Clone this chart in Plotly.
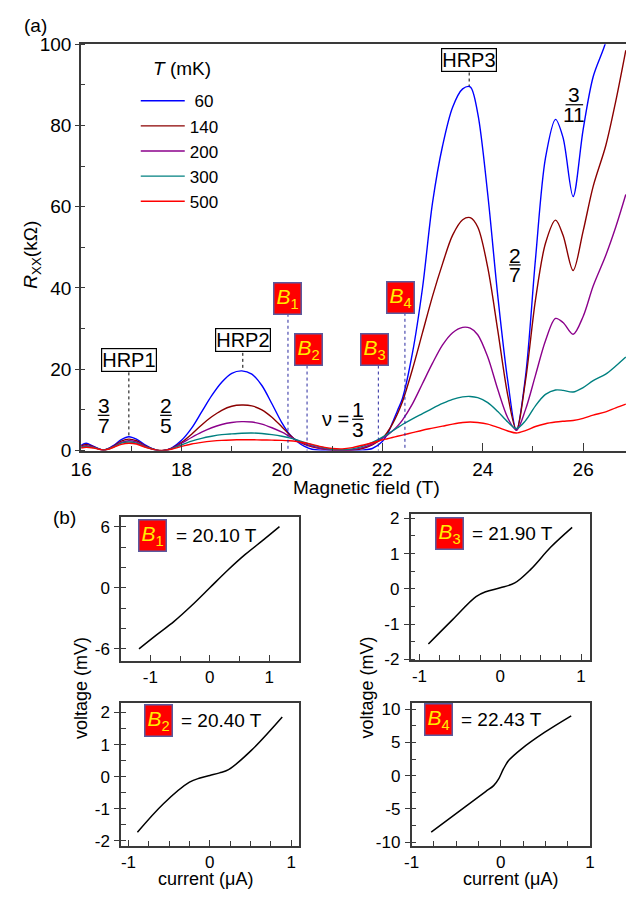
import plotly.graph_objects as go

# ---------------- data: panel (a) ----------------
FIELD = [16.0, 16.1, 16.25, 16.45, 16.65, 16.8, 16.95, 17.1, 17.3, 17.5, 17.65, 17.8,
         18.0, 18.2, 18.4, 18.6, 18.8, 19.0, 19.2, 19.4, 19.6, 19.8, 20.0, 20.15, 20.3,
         20.45, 20.6, 20.8, 21.0, 21.2, 21.4, 21.6, 21.8, 22.0, 22.1, 22.2, 22.3, 22.4,
         22.6, 22.8, 23.0, 23.2, 23.4, 23.6, 23.75, 23.9, 24.1, 24.3, 24.5, 24.67, 24.85,
         25.05, 25.25, 25.45, 25.6, 25.8, 26.0, 26.2, 26.45, 26.65, 26.85]

R_60 = [1.3, 1.8, 1.0, 0.1, 1.3, 2.7, 3.4, 2.8, 1.2, 0.1, 0.0, 0.6,
        2.5, 5.5, 9.5, 13.5, 16.8, 19.0, 19.6, 18.8, 16.0, 11.5, 6.8, 4.0, 2.2,
        1.0, 0.3, 0.05, 0.0, 0.0, 0.0, 0.1, 0.5, 2.2, 4.0, 6.8, 9.8, 12.8,
        24.0, 40.0, 61.0, 75.0, 84.5, 89.0, 89.5, 83.0, 63.0, 38.0, 17.0, 5.0, 18.0,
        47.0, 72.0, 81.5, 77.0, 62.5, 79.0, 92.0, 100.5, 112.0, 125.0]
R_140 = [1.1, 1.5, 0.9, 0.1, 1.1, 2.3, 2.8, 2.4, 1.0, 0.1, 0.0, 0.5,
         2.0, 4.0, 6.3, 8.3, 9.9, 10.9, 11.2, 11.0, 10.0, 8.2, 5.8, 3.9, 2.4,
         1.5, 0.9, 0.4, 0.1, 0.0, 0.1, 0.5, 1.4, 3.0, 4.5, 6.5, 9.0, 12.0,
         20.0, 29.0, 38.0, 46.0, 53.0, 56.8, 57.3, 55.0, 45.0, 29.5, 13.5, 5.0, 17.0,
         37.0, 51.0, 56.7, 53.0, 44.3, 54.0, 65.0, 75.0, 86.0, 98.5]
R_200 = [0.9, 1.2, 0.8, 0.1, 1.0, 2.0, 2.4, 2.1, 0.9, 0.1, 0.0, 0.5,
         1.8, 3.2, 4.5, 5.6, 6.4, 6.9, 7.1, 7.0, 6.5, 5.6, 4.5, 3.5, 2.5,
         1.7, 1.1, 0.5, 0.2, 0.1, 0.2, 0.7, 1.6, 3.0, 3.8, 4.8, 6.0, 7.5,
         11.5, 16.5, 21.5, 26.0, 29.0, 30.3, 30.1, 28.5, 23.0, 15.0, 8.0, 5.0, 10.0,
         18.5, 27.0, 32.5, 31.5, 28.6, 33.0, 40.5, 48.0, 55.0, 63.0]
R_300 = [0.7, 1.0, 0.7, 0.1, 0.9, 1.8, 2.1, 1.8, 0.8, 0.1, 0.0, 0.4,
         1.4, 2.3, 3.0, 3.5, 3.9, 4.1, 4.25, 4.3, 4.2, 3.9, 3.5, 3.1, 2.6,
         2.0, 1.4, 0.8, 0.3, 0.2, 0.4, 1.0, 2.0, 3.3, 4.0, 4.8, 5.6, 6.4,
         7.8, 9.1, 10.4, 11.6, 12.6, 13.2, 13.3, 13.0, 11.8, 9.6, 7.0, 5.4, 7.3,
         11.0, 13.8, 14.9, 14.8, 14.4, 15.5, 17.2, 18.8, 20.8, 23.0]
R_500 = [0.6, 0.8, 0.6, 0.1, 0.8, 1.5, 1.8, 1.6, 0.7, 0.1, 0.0, 0.3,
         1.0, 1.6, 2.0, 2.3, 2.5, 2.6, 2.65, 2.65, 2.6, 2.55, 2.5, 2.4, 2.2,
         1.9, 1.5, 0.9, 0.5, 0.4, 0.7, 1.3, 1.9, 2.6, 2.9, 3.2, 3.5, 3.8,
         4.4, 5.0, 5.5, 6.0, 6.5, 6.9, 7.0, 6.9, 6.5, 5.7, 4.8, 4.3, 4.9,
         5.9, 6.6, 7.0, 7.2, 7.4, 7.9, 8.7, 9.5, 10.5, 11.4]

TEMPS_MK = ["60", "140", "200", "300", "500"]
SERIES = [R_60, R_140, R_200, R_300, R_500]
COLORS = ["#0000ff", "#8b0000", "#8b008b", "#008080", "#ff0000"]

HRP_LABELS = ["HRP1", "HRP2", "HRP3"]
HRP_FIELDS = [16.95, 19.22, 23.73]
B_MARK_FIELDS = [20.12, 20.5, 21.92, 22.45]

# ---------------- data: panel (b) ----------------
I_B1 = [-1.19, -0.9, -0.6, -0.3, 0.0, 0.3, 0.6, 0.9, 1.17]
V_B1 = [-6.0, -4.65, -3.3, -1.72, 0.0, 1.72, 3.3, 4.7, 6.0]
I_B3 = [-0.89, -0.59, -0.30, -0.18, 0.0, 0.18, 0.38, 0.62, 0.89]
V_B3 = [-1.56, -0.87, -0.22, -0.08, 0.03, 0.17, 0.56, 1.17, 1.74]
I_B2 = [-0.89, -0.57, -0.25, -0.12, 0.0, 0.12, 0.23, 0.51, 0.89]
V_B2 = [-1.73, -0.84, -0.17, -0.04, 0.04, 0.12, 0.22, 0.82, 1.86]
I_B4 = [-0.78, -0.46, -0.17, -0.08, -0.02, 0.03, 0.09, 0.23, 0.49, 0.79]
V_B4 = [-8.5, -5.3, -2.4, -1.5, -0.4, 1.0, 2.3, 4.0, 6.5, 9.0]
B_VALUES = ["20.10", "21.90", "20.40", "22.43"]
B_INDEX = ["1", "3", "2", "4"]

TICKS_A_X = [16, 18, 20, 22, 24, 26]
TICKS_A_Y = [0, 20, 40, 60, 80, 100]
TICKS_I = [-1, 0, 1]
TICKS_V_B1 = [-6, 0, 6]
TICKS_V_SMALL = [-2, -1, 0, 1, 2]
TICKS_V_B4 = [-10, -5, 0, 5, 10]

# ---------------- helpers ----------------
W, H = 631, 903
FONT = "Liberation Sans, Arial, Helvetica, sans-serif"
AX = "#3a3a3a"


def px(x):
    return x / W


def py(y):
    return 1 - y / H


fig = go.Figure()

for name, vals, col in zip(TEMPS_MK, SERIES, COLORS):
    fig.add_trace(go.Scatter(x=FIELD, y=vals, mode="lines",
                             name=("\u00a0" + name) if len(name) == 2 else name,
                             line=dict(color=col, width=1.4, shape="spline", smoothing=0.9),
                             xaxis="x", yaxis="y", showlegend=True))

panels = [(I_B1, V_B1, "x2", "y2"), (I_B3, V_B3, "x3", "y3"),
          (I_B2, V_B2, "x4", "y4"), (I_B4, V_B4, "x5", "y5")]
for I, V, xa, ya in panels:
    fig.add_trace(go.Scatter(x=I, y=V, mode="lines",
                             line=dict(color="black", width=1.5, shape="spline", smoothing=1.0),
                             xaxis=xa, yaxis=ya, showlegend=False))

common = dict(showgrid=False, zeroline=False, showline=True, linecolor=AX, tickcolor=AX,
              tickfont=dict(family=FONT, size=17, color="black"), tickmode="array")


def tl(vals):
    return [str(v) for v in vals]


layout = dict(
    width=W, height=H, margin=dict(l=0, r=0, t=0, b=0),
    paper_bgcolor="white", plot_bgcolor="white",
    font=dict(family=FONT, color="black"),
    xaxis=dict(common, domain=[px(72), 1.0], range=[16, 26.854], anchor="y",
               linewidth=2, mirror=True, tickvals=TICKS_A_X, ticktext=tl(TICKS_A_X),
               ticks="inside", ticklen=8,
               minor=dict(tickmode="linear", tick0=16, dtick=1, ticks="inside", ticklen=5, tickcolor=AX),
               tickfont=dict(family=FONT, size=19, color="black"), ticklabelstandoff=1),
    yaxis=dict(common, domain=[py(451), py(35)], range=[0, 100], anchor="x",
               linewidth=2, tickvals=TICKS_A_Y, ticktext=tl(TICKS_A_Y), ticks="outside", ticklen=4,
               minor=dict(tickmode="linear", tick0=0, dtick=10, ticks="inside", ticklen=4, tickcolor=AX),
               tickfont=dict(family=FONT, size=19, color="black")),
    legend=dict(x=px(128), y=py(75), xanchor="left", yanchor="top",
                bgcolor="rgba(0,0,0,0)", font=dict(family=FONT, size=17),
                tracegroupgap=0, itemwidth=44),
)

bottom_specs = [
    ("x2", "y2", [113, 295], [519, 666], [-1.49, 1.49], [-7.15, 6.96], TICKS_I, 0.5, TICKS_V_B1, 2),
    ("x3", "y3", [410, 594], [516, 665], [-1.11, 1.11], [-2.0, 2.12], TICKS_I, 0.25, TICKS_V_SMALL, 0.5),
    ("x4", "y4", [113, 295], [709, 856], [-1.09, 1.09], [-2.16, 2.31], TICKS_I, 0.25, TICKS_V_SMALL, 0.5),
    ("x5", "y5", [411, 594], [709, 856], [-1.0, 1.0], [-10.6, 11.0], TICKS_I, 0.25, TICKS_V_B4, 2.5),
]
for xa, ya, xd, yd, xr, yr, xt, xmdt, yt, ymdt in bottom_specs:
    xk = "xaxis" + xa[1:]
    yk = "yaxis" + ya[1:]
    layout[xk] = dict(common, domain=[px(xd[0]), px(xd[1])], range=xr, anchor=ya, mirror=True,
                      linewidth=1.5, tickvals=xt, ticktext=tl(xt), ticks="inside", ticklen=6,
                      minor=dict(tickmode="linear", tick0=0, dtick=xmdt, ticks="inside", ticklen=5, tickcolor=AX),
                      ticklabelstandoff=0)
    layout[yk] = dict(common, domain=[py(yd[1]), py(yd[0])], range=yr, anchor=xa, mirror=True,
                      linewidth=1.5, tickvals=yt, ticktext=tl(yt), ticks="outside", ticklen=5,
                      minor=dict(tickmode="linear", tick0=0, dtick=ymdt, ticks="inside", ticklen=5, tickcolor=AX),
                      ticklabelstandoff=1)

fig.update_layout(**layout)

ann = []
shapes = []


def text(x, y, s, size=19, **kw):
    d = dict(x=px(x), y=py(y), xref="paper", yref="paper", text=s, showarrow=False,
             font=dict(family=FONT, size=size, color="black"), xanchor="center", yanchor="middle")
    d.update(kw)
    ann.append(d)


def bbox(x, y, idx, size=21):
    ann.append(dict(x=px(x), y=py(y), xref="paper", yref="paper",
                    text="<i>B</i><sub>" + idx + "</sub>", showarrow=False,
                    font=dict(family=FONT, size=size, color="#ffee00"),
                    bgcolor="#ff0000", bordercolor="#5a5aa0", borderwidth=1.5, borderpad=0,
                    width=26, height=30, xanchor="center", yanchor="middle"))


def frac(x, ytop, n, d, size=21, bar=12):
    text(x, ytop, n, size=size, height=17)
    text(x, ytop + 20, d, size=size, height=17)
    shapes.append(dict(type="line", xref="paper", yref="paper",
                       x0=px(x - bar / 2), x1=px(x + bar / 2), y0=py(ytop + 10), y1=py(ytop + 10),
                       line=dict(color="black", width=1.2)))


# panel labels and axis titles
text(25, 16, "(a)", size=19)
text(55, 520, "(b)", size=19)
text(175, 60, "<i>T</i> (mK)", size=19)
text(22, 250, "<i>R</i><sub>XX</sub>(k\u03a9)", size=19, textangle=-90)
text(365, 489, "Magnetic field (T)", size=19)
text(72, 694, "voltage (mV)", size=18, textangle=-90)
text(365, 694, "voltage (mV)", size=18, textangle=-90)
text(200, 890, "current (\u03bcA)", size=18)
text(512, 890, "current (\u03bcA)", size=18)

# HRP boxed labels with dotted leaders
hrp_pos = [(121, 358, 371, 436), (238, 338, 351, 368), (470, 51, 64, 78)]
for lab, fld, (cx, cy, y0, y1) in zip(HRP_LABELS, HRP_FIELDS, hrp_pos):
    ann.append(dict(x=px(cx), y=py(cy), xref="paper", yref="paper", text=lab, showarrow=False,
                    font=dict(family=FONT, size=20, color="black"), bgcolor="white",
                    bordercolor="black", borderwidth=1.2, borderpad=0,
                    xanchor="center", yanchor="middle"))
    shapes.append(dict(type="line", xref="x", yref="paper", x0=fld, x1=fld, y0=py(y0), y1=py(y1),
                       line=dict(color="black", width=1, dash="dot")))

# B markers on panel (a)
bpos = [(284, 295), (305, 348), (373, 348), (400, 294)]
for k, (fld, (cx, cy)) in enumerate(zip(B_MARK_FIELDS, bpos)):
    shapes.append(dict(type="line", xref="x", yref="paper", x0=fld, x1=fld, y0=py(cy + 16), y1=py(451),
                       line=dict(color="#2a2aa0", width=1, dash="dot")))
    bbox(cx, cy, str(k + 1))

# filling-factor fractions
frac(95, 405, "3", "7")
frac(159, 405, "2", "5")
frac(356, 409, "1", "3")
text(333, 419, "\u03bd =", size=20)
frac(517, 251, "2", "7")
frac(578, 87, "3", "11", bar=18)

# inset labels
inset_pos = [(145, 538, 167), (450, 536, 471), (151, 727, 172), (439, 726, 460)]
for (cx, cy, tx), val, idx in zip(inset_pos, B_VALUES, B_INDEX):
    bbox(cx, cy, idx)
    text(tx, cy, "= " + val + " T", size=19, xanchor="left")

fig.update_layout(annotations=ann, shapes=shapes)
fig.write_html("out.html")
